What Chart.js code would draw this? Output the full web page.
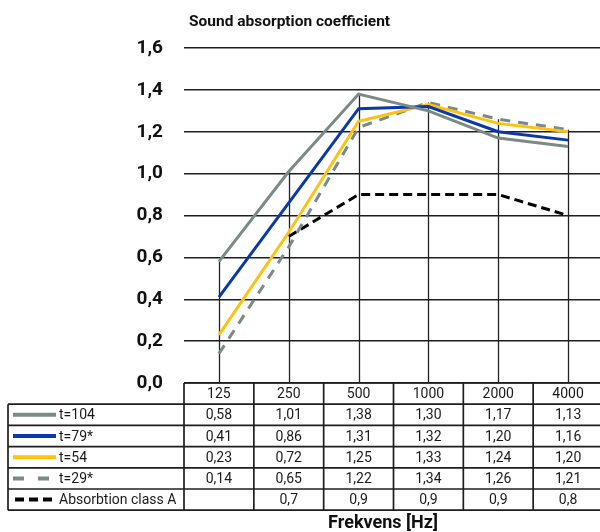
<!DOCTYPE html>
<html><head><meta charset="utf-8">
<script src="https://cdn.jsdelivr.net/npm/chart.js@4"></script>
<style>html,body{margin:0;padding:0;overflow:hidden;background:#fff}#wrap{position:relative;width:604px;height:532px}</style>
</head><body><div id="wrap"><canvas id="c"></canvas></div>
<script>
const categories = ['125','250','500','1000','2000','4000'];
const t104 = [0.58, 1.01, 1.38, 1.30, 1.17, 1.13];
const t79 = [0.41, 0.86, 1.31, 1.32, 1.20, 1.16];
const t54 = [0.23, 0.72, 1.25, 1.33, 1.24, 1.20];
const t29 = [0.14, 0.65, 1.22, 1.34, 1.26, 1.21];
const classA = [null, 0.7, 0.9, 0.9, 0.9, 0.8];
const seriesLabels = ['t=104', 't=79*', 't=54', 't=29*', 'Absorbtion class A'];
const yMin = 0, yMax = 1.6, yStep = 0.2;
const chartTitle = 'Sound absorption coefficient';
const xTitle = 'Frekvens [Hz]';

const GRAY = '#7b8a87', BLUE = '#0b38a8', YELLOW = '#ffc20e', BLACK = '#000000';
const styles = [
  {color: GRAY, dash: [], legendDash: []},
  {color: BLUE, dash: [], legendDash: []},
  {color: YELLOW, dash: [], legendDash: []},
  {color: GRAY, dash: [10, 8], legendDash: [11, 14]},
  {color: BLACK, dash: [9, 5], legendDash: [9, 5]}
];
const seriesValues = [t104, t79, t54, t29, classA];
const FONT = 'Roboto, "DejaVu Sans", sans-serif';
const fmt = (v, d) => v == null ? '' : v.toFixed(d).replace('.', ',');

const tablePlugin = {
  id: 'tablePlugin',
  beforeDatasetsDraw(chart) {
    const ctx = chart.ctx, xs = chart.scales.x, ys = chart.scales.y;
    ctx.save();
    ctx.strokeStyle = '#222';
    ctx.lineWidth = 1.3;
    categories.forEach((c, i) => {
      let m = -Infinity;
      seriesValues.forEach(s => { if (s[i] != null) m = Math.max(m, s[i]); });
      const x = Math.round(xs.getPixelForValue(i)) + 0.5;
      ctx.beginPath();
      ctx.moveTo(x, ys.getPixelForValue(m));
      ctx.lineTo(x, ys.getPixelForValue(0));
      ctx.stroke();
    });
    ctx.restore();
  },
  afterDraw(chart) {
    const ctx = chart.ctx, xs = chart.scales.x, ys = chart.scales.y, ca = chart.chartArea;
    const top = ys.getPixelForValue(0);
    const rowH = 21.2;
    const left = ca.left, right = ca.right;
    const colW = (right - left) / categories.length;
    const legLeft = 8;
    const nRows = seriesLabels.length + 1;
    const bottom = top + nRows * rowH;
    ctx.save();
    ctx.strokeStyle = '#1e1e1e';
    ctx.lineWidth = 1.7;
    for (let r = 0; r <= nRows; r++) {
      const y = top + r * rowH;
      ctx.beginPath();
      ctx.moveTo(r >= 1 ? legLeft : left, y);
      ctx.lineTo(right + 2, y);
      ctx.stroke();
    }
    ctx.beginPath();
    ctx.moveTo(legLeft, top + rowH); ctx.lineTo(legLeft, bottom); ctx.stroke();
    for (let c = 0; c <= categories.length; c++) {
      const x = left + c * colW;
      ctx.beginPath();
      ctx.moveTo(x, top); ctx.lineTo(x, bottom); ctx.stroke();
    }
    ctx.fillStyle = '#1a1a1a';
    ctx.font = '14px ' + FONT;
    ctx.textAlign = 'center';
    ctx.textBaseline = 'middle';
    categories.forEach((c, i) => {
      ctx.fillText(c, left + (i + 0.5) * colW, top + rowH / 2 + 1);
    });
    seriesValues.forEach((s, r) => {
      const yc = top + (r + 1.5) * rowH + 1;
      const dec = r === 4 ? 1 : 2;
      s.forEach((v, i) => {
        ctx.fillText(fmt(v, dec), left + (i + 0.5) * colW, yc);
      });
    });
    seriesLabels.forEach((lab, r) => {
      const yc = top + (r + 1.5) * rowH;
      const st = styles[r];
      ctx.save();
      ctx.strokeStyle = st.color;
      ctx.lineWidth = 4;
      ctx.lineCap = 'butt';
      ctx.setLineDash(st.legendDash);
      ctx.beginPath();
      ctx.moveTo(r === 4 ? 15 : 13, yc);
      ctx.lineTo(r === 4 ? 53 : 56, yc);
      ctx.stroke();
      ctx.restore();
      ctx.fillStyle = '#1a1a1a';
      ctx.textAlign = 'left';
      ctx.fillText(lab, 59, yc + 1);
    });
    ctx.fillStyle = '#111';
    ctx.textAlign = 'left';
    ctx.textBaseline = 'alphabetic';
    ctx.font = 'bold 15.5px ' + FONT;
    ctx.fillText(chartTitle, 189, 26);
    ctx.textAlign = 'center';
    ctx.font = 'bold 18px ' + FONT;
    ctx.fillText(xTitle, 383, 528);
    ctx.restore();
  }
};

const datasets = seriesLabels.map((lab, i) => ({
  label: lab,
  data: seriesValues[i],
  borderColor: styles[i].color,
  backgroundColor: styles[i].color,
  borderWidth: 3,
  borderDash: styles[i].dash,
  pointRadius: 0,
  tension: 0,
  fill: false
}));

new Chart(document.getElementById('c'), {
  type: 'line',
  data: {labels: categories, datasets: datasets},
  options: {
    responsive: true,
    maintainAspectRatio: false,
    animation: false,
    layout: {padding: {top: 48, bottom: 149, left: 0, right: 1}},
    plugins: {legend: {display: false}, tooltip: {enabled: false}, title: {display: false}},
    scales: {
      x: {
        type: 'category',
        offset: true,
        display: false
      },
      y: {
        min: yMin, max: yMax,
        afterFit(scale) { scale.width = 184; },
        border: {display: false},
        grid: {color: '#1e1e1e', lineWidth: 1.4, drawTicks: false},
        ticks: {
          stepSize: yStep,
          padding: 21,
          color: '#111',
          font: {family: FONT, size: 19, weight: 'bold'},
          callback: v => fmt(v, 1)
        }
      }
    }
  },
  plugins: [tablePlugin]
});
</script>
</body></html>
